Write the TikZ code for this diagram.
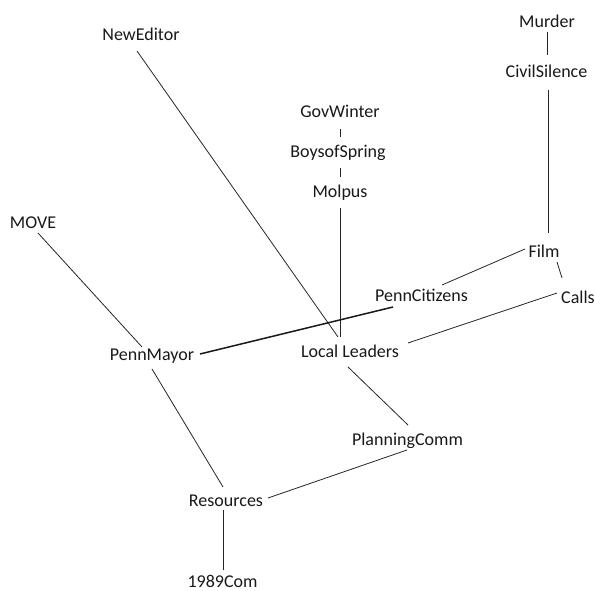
\documentclass[tikz,border=0pt]{standalone}
\usepackage{fontspec}
\setmainfont{Carlito}
\begin{document}
\begin{tikzpicture}[x=1pt,y=-1pt,
  lbl/.style={inner sep=0pt, text height=11.6pt, text depth=0pt, font=\fontsize{18}{20}\selectfont, text=black!90},
  edge/.style={draw=black!85, line width=0.8pt},
  thickedge/.style={draw=black!90, line width=1.5pt}]
\useasboundingbox[fill=white] (0,0) rectangle (595,591);
\node[lbl] (ne) at (141,35) {NewEditor};
\node[lbl] (mu) at (547,21.5) {Murder};
\node[lbl] (cs) at (546.5,71.5) {CivilSilence};
\node[lbl] (gw) at (340,112) {GovWinter};
\node[lbl] (bs) at (338,151.5) {BoysofSpring};
\node[lbl] (mo) at (340,192) {Molpus};
\node[lbl] (mv) at (33,222.5) {MOVE};
\node[lbl] (fi) at (544,251.5) {Film};
\node[lbl] (ca) at (578,298) {Calls};
\node[lbl] (pc) at (421.5,296) {PennCitizens};
\node[lbl] (pm) at (152,355) {PennMayor};
\node[lbl] (ll) at (350,351.5) {Local Leaders};
\node[lbl] (pl) at (407.5,440) {PlanningComm};
\node[lbl] (re) at (226,501) {Resources};
\node[lbl] (nc) at (222.5,581.5) {1989Com};

\draw[edge] ([shift={(0,10.5)}]mu.center) -- ([shift={(0.5,-16.5)}]cs.center);
\draw[edge] ([shift={(1.5,18.5)}]cs.center) -- ([shift={(4,-18.5)}]fi.center);
\draw[edge] ([shift={(0,17)}]gw.center) -- ([shift={(2,-14.5)}]bs.center);
\draw[edge] ([shift={(2,16.5)}]bs.center) -- ([shift={(0,-15)}]mo.center);
\draw[edge] ([shift={(0,16)}]mo.center) -- ([shift={(-10,-14.5)}]ll.center);
\draw[edge] ([shift={(-4,16)}]ne.center) -- ([shift={(-12,-14.5)}]ll.center);
\draw[edge] ([shift={(5,10.5)}]mv.center) -- ([shift={(-10,-8)}]pm.center);
\draw[thickedge] ([shift={(48,-1)}]pm.center) -- ([shift={(-28.5,11)}]pc.center);
\draw[edge] ([shift={(-19,-2.5)}]fi.center) -- ([shift={(20.5,-11)}]pc.center);
\draw[edge] ([shift={(13,10.5)}]fi.center) -- ([shift={(-16,-20)}]ca.center);
\draw[edge] ([shift={(-21,-5)}]ca.center) -- ([shift={(58,-8.5)}]ll.center);
\draw[edge] ([shift={(0,14)}]pm.center) -- ([shift={(-3,-14)}]re.center);
\draw[edge] ([shift={(-2,15.5)}]ll.center) -- ([shift={(0.5,-15)}]pl.center);
\draw[edge] ([shift={(-0.5,10)}]pl.center) -- ([shift={(42,-3)}]re.center);
\draw[edge] ([shift={(-3,9)}]re.center) -- ([shift={(0.5,-11.5)}]nc.center);
\end{tikzpicture}
\end{document}
